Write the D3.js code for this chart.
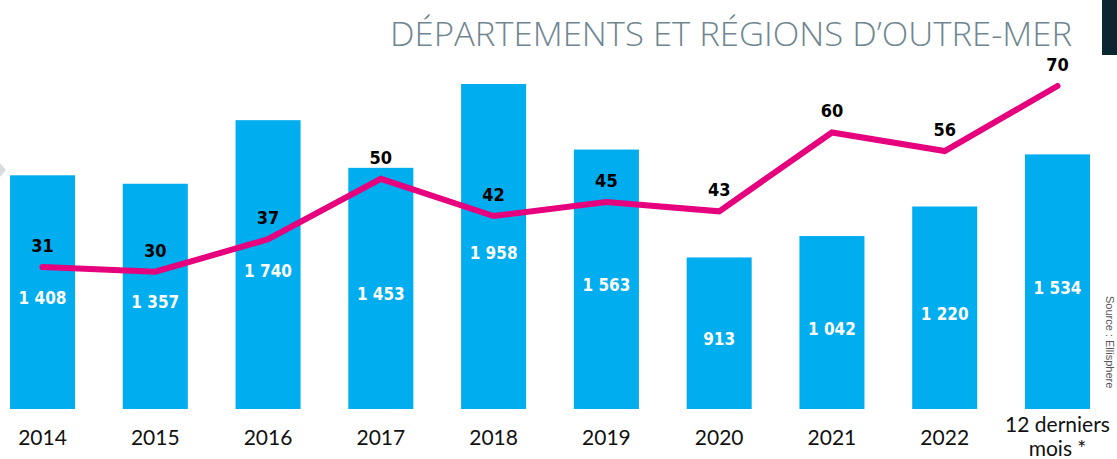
<!DOCTYPE html>
<html><head><meta charset="utf-8">
<script src="https://cdn.jsdelivr.net/npm/d3@7/dist/d3.min.js"></script>
<style>
html,body{margin:0;padding:0;background:#fff;}
svg{display:block;}
</style></head>
<body>
<script>
const categories = ["2014","2015","2016","2017","2018","2019","2020","2021","2022","12 derniers mois *"];
const barValues = [1408,1357,1740,1453,1958,1563,913,1042,1220,1534];
const lineValues = [31,30,37,50,42,45,43,60,56,70];
const title = "DÉPARTEMENTS ET RÉGIONS D’OUTRE-MER";
const source = "Source : Ellisphere";

const W = 1117, H = 459;
const svg = d3.select("body").append("svg").attr("width", W).attr("height", H);

const x = d3.scaleBand().domain(categories).range([10, 1090]).paddingInner(0.4235).paddingOuter(0);
const yBar = d3.scaleLinear().domain([0, 1958]).range([409, 84]);
const yLine = d3.scaleLinear().domain([0, 70]).range([411, 86]);
const fmt = v => d3.format(",")(v).replace(/,/g, " ");

// top-right dark block
svg.append("rect").attr("x", 1102).attr("y", 0).attr("width", 15).attr("height", 55).attr("fill", "#0c2631");
// left chevron
svg.append("path").attr("d", "M0,163 L6,170 L0,177 Z").attr("fill", "#d9dcdf");

// title
svg.append("text").attr("x", 1072).attr("y", 46).attr("text-anchor", "end")
  .attr("font-family", "'Open Sans', sans-serif").attr("font-weight", 300)
  .attr("font-size", 33).attr("fill", "#6f8690")
  .attr("textLength", 682).attr("lengthAdjust", "spacingAndGlyphs")
  .text(title);

// bars
svg.append("g").selectAll("rect").data(categories).join("rect")
  .attr("x", d => x(d)).attr("width", x.bandwidth())
  .attr("y", (d, i) => yBar(barValues[i]))
  .attr("height", (d, i) => yBar(0) - yBar(barValues[i]))
  .attr("fill", "#00adef");

// bar labels
svg.append("g").selectAll("text").data(categories).join("text")
  .attr("x", d => x(d) + x.bandwidth() / 2)
  .attr("y", (d, i) => (yBar(barValues[i]) + yBar(0)) / 2 + 12)
  .attr("text-anchor", "middle")
  .attr("font-family", "'Liberation Sans Narrow','DejaVu Sans Condensed',sans-serif")
  .attr("font-weight", 700).attr("font-size", 17).attr("fill", "#fff")
  .text((d, i) => fmt(barValues[i]));

// line
const line = d3.line().x((d, i) => x(categories[i]) + x.bandwidth() / 2).y(d => yLine(d));
svg.append("path").datum(lineValues).attr("d", line)
  .attr("fill", "none").attr("stroke", "#e6007e").attr("stroke-width", 6)
  .attr("stroke-linecap", "round").attr("stroke-linejoin", "miter");

// line labels
svg.append("g").selectAll("text").data(lineValues).join("text")
  .attr("x", (d, i) => x(categories[i]) + x.bandwidth() / 2)
  .attr("y", d => yLine(d) - 15)
  .attr("text-anchor", "middle")
  .attr("font-family", "'Liberation Sans Narrow','DejaVu Sans Condensed',sans-serif")
  .attr("font-weight", 700).attr("font-size", 18).attr("fill", "#000")
  .text(d => d);

// x axis labels
const xl = svg.append("g").selectAll("text").data(categories).join("text")
  .attr("x", d => x(d) + x.bandwidth() / 2)
  .attr("text-anchor", "middle")
  .attr("font-family", "Lato, sans-serif").attr("font-size", 21).attr("fill", "#111");
xl.each(function(d) {
  const t = d3.select(this);
  if (d.startsWith("12 ")) {
    t.append("tspan").attr("x", x(d) + x.bandwidth() / 2).attr("y", 432).text("12 derniers");
    t.append("tspan").attr("x", x(d) + x.bandwidth() / 2).attr("y", 456).text("mois *");
  } else {
    t.attr("y", 445).text(d);
  }
});

// source
svg.append("text").attr("transform", "translate(1106,296) rotate(90)")
  .attr("font-family", "'Liberation Sans', sans-serif").attr("font-size", 11).attr("fill", "#555")
  .text(source);
</script>
</body></html>
